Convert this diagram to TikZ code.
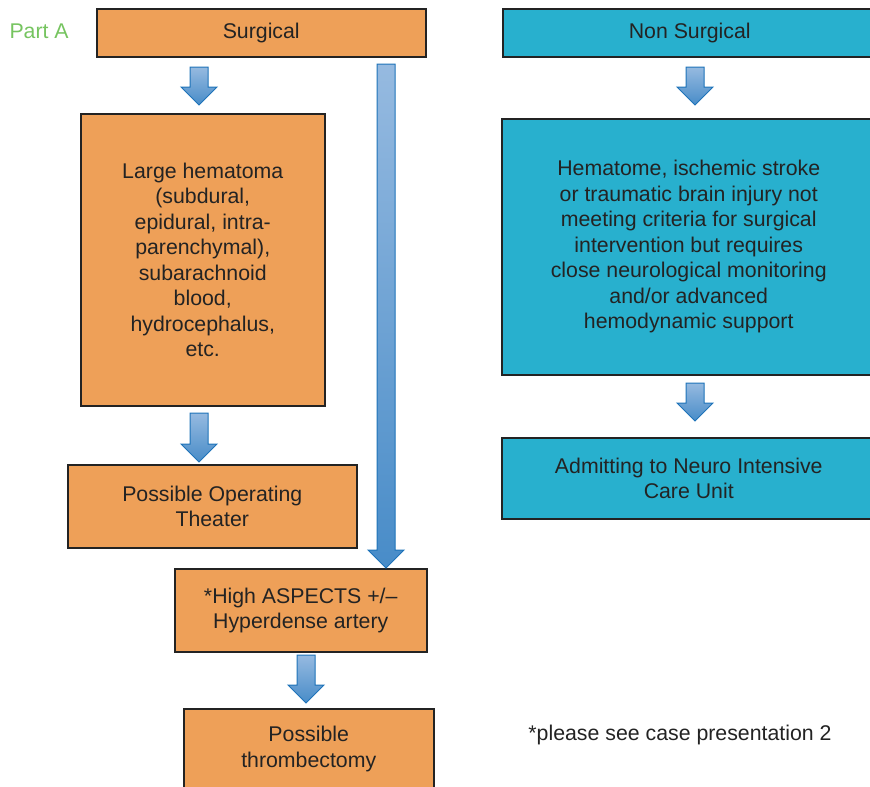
\documentclass[tikz,border=0pt]{standalone}
\usepackage{fontspec}
\setmainfont{Liberation Sans}
\usepackage{tikz}
\usetikzlibrary{calc, positioning}
\definecolor{surgorange}{RGB}{238,160,88}
\definecolor{nonsurgcyan}{RGB}{40,176,206}
\definecolor{boxline}{RGB}{35,35,35}
\definecolor{arrowtop}{RGB}{150,186,224}
\definecolor{arrowbot}{RGB}{72,140,200}
\definecolor{arrowline}{RGB}{30,115,185}
\definecolor{partgreen}{RGB}{118,196,96}
\definecolor{textdark}{RGB}{35,35,35}
\tikzset{
  box/.style={rectangle, draw=boxline, line width=1.5pt, anchor=north west,
    align=center, inner sep=0pt, text=textdark,
    font=\fontsize{21.3}{25.5}\selectfont},
  surg/.style={box, fill=surgorange},
  nonsurg/.style={box, fill=nonsurgcyan},
  flow/.style={draw=arrowline, line width=1pt, line join=miter,
    top color=arrowtop, bottom color=arrowbot}
}
% block arrow from #1 down to tip #2
\newcommand{\flowarrow}[2]{%
  \draw[flow] let \p1=(#1), \p2=(#2) in
    (\x1-9pt,\y1) -- (\x1+9pt,\y1) -- (\x1+9pt,\y2+18pt) -- (\x1+18pt,\y2+18pt)
    -- (\x1,\y2) -- (\x1-18pt,\y2+18pt) -- (\x1-9pt,\y2+18pt) -- cycle;}

\begin{document}
\begin{tikzpicture}[x=1pt, y=-1pt]
  \useasboundingbox (0,0) rectangle (870,787);

  \node[text=partgreen, anchor=west, font=\fontsize{21.3}{25.5}\selectfont] (part) at (6,31) {Part A};

  % surgical side
  \node[surg, minimum width=329pt, minimum height=48pt] (surgical) at (96,8) {Surgical};
  \node[surg, minimum width=244pt, minimum height=292pt] (hematoma) at (80,113)
    {Large hematoma\\(subdural,\\epidural, intra-\\parenchymal),\\subarachnoid\\blood,\\hydrocephalus,\\etc.};
  \node[surg, minimum width=289pt, minimum height=83pt] (theater) at (67,464)
    {Possible Operating\\Theater};
  \node[surg, minimum width=252pt, minimum height=83pt] (aspects) at (174,568)
    {*High ASPECTS +/--\\Hyperdense artery};
  \node[surg, minimum width=250pt, minimum height=80pt] (thromb) at (183,708)
    {Possible\\thrombectomy};

  % non surgical side
  \node[nonsurg, minimum width=374pt, minimum height=48pt] (nonsurgical) at (502,8) {Non Surgical};
  \node[nonsurg, minimum width=374pt, minimum height=256pt] (hematome) at (501,118)
    {Hematome, ischemic stroke\\or traumatic brain injury not\\meeting criteria for surgical\\intervention but requires\\close neurological monitoring\\and/or advanced\\hemodynamic support};
  \node[nonsurg, minimum width=374pt, minimum height=81pt] (neuroicu) at (501,437)
    {Admitting to Neuro Intensive\\Care Unit};

  \node[text=textdark, font=\fontsize{21.3}{25.5}\selectfont] (note) at (680,735)
    {*please see case presentation 2};

  % arrow ends
  \coordinate (surg-out) at (199,67);
  \coordinate (hema-in) at (199,105);
  \coordinate (hema-out) at (199,413);
  \coordinate (theater-in) at (199,462);
  \coordinate (surg-skip) at (386,64);
  \coordinate (aspects-in) at (386,568);
  \coordinate (aspects-out) at (306,655);
  \coordinate (thromb-in) at (306,703);
  \coordinate (nonsurg-out) at (695,67);
  \coordinate (hematome-in) at (695,105);
  \coordinate (hematome-out) at (695,383);
  \coordinate (neuroicu-in) at (695,421);

  \flowarrow{surg-out}{hema-in}
  \flowarrow{hema-out}{theater-in}
  \flowarrow{surg-skip}{aspects-in}
  \flowarrow{aspects-out}{thromb-in}
  \flowarrow{nonsurg-out}{hematome-in}
  \flowarrow{hematome-out}{neuroicu-in}
\end{tikzpicture}
\end{document}
